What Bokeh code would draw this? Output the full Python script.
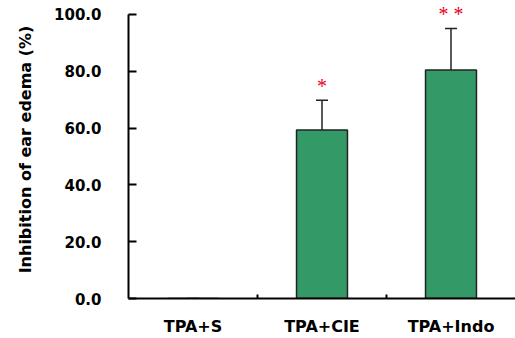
from bokeh.plotting import figure
from bokeh.models import (ColumnDataSource, FixedTicker, NumeralTickFormatter,
                          Range1d, Whisker, TeeHead)
from bokeh.embed import file_html
from bokeh.resources import INLINE

groups = ["TPA+S", "TPA+CIE", "TPA+Indo"]
means = [0.0, 59.3, 80.4]
errors = [0.0, 10.5, 14.6]
stars = ["", "*", "* *"]

xpos = [i + 0.5 for i in range(len(groups))]
src = ColumnDataSource(dict(
    x=xpos, top=means,
    upper=[m + e for m, e in zip(means, errors)],
    star_y=[m + e + 5.0 for m, e in zip(means, errors)],
    star=stars,
))

p = figure(width=515, height=338, output_backend="svg", toolbar_location=None,
           x_range=Range1d(0, 3), y_range=Range1d(0, 104.9),
           min_border_left=128, min_border_right=0, min_border_top=0,
           min_border_bottom=39)
p.outline_line_color = None
p.grid.visible = False
p.background_fill_color = "white"
p.border_fill_color = "white"

p.vbar(x="x", top="top", width=0.395, source=src, fill_color="#339966",
       line_color="#222222", line_width=1.5)

w = Whisker(base="x", lower="top", upper="upper", source=src,
            line_color="#222222", line_width=1.5,
            upper_head=TeeHead(size=12, line_color="#222222", line_width=1.5),
            lower_head=None)
p.add_layout(w)

p.text(x="x", y="star_y", text="star", source=src, text_color="#e8001c",
       text_font_size="20px", text_align="center", text_baseline="middle",
       text_font="DejaVu Sans")

# y axis
ya = p.yaxis[0]
ya.ticker = FixedTicker(ticks=[0, 20, 40, 60, 80, 100], minor_ticks=[])
ya.formatter = NumeralTickFormatter(format="0.0")
ya.bounds = (0, 100)
ya.axis_line_width = 2
ya.major_tick_line_width = 2
ya.major_tick_in = 8
ya.major_tick_out = 0
ya.minor_tick_line_color = None
ya.major_label_standoff = 27
ya.major_label_text_font = "DejaVu Sans"
ya.major_label_text_font_style = "bold"
ya.major_label_text_font_size = "15px"
ya.major_label_text_color = "black"
ya.axis_label = "Inhibition of ear edema (%)"
ya.axis_label_text_font = "DejaVu Sans"
ya.axis_label_text_font_style = "bold"
ya.axis_label_text_font_size = "16px"
ya.axis_label_text_color = "black"
ya.axis_label_standoff = 16

# x axis
xa = p.xaxis[0]
xa.ticker = FixedTicker(ticks=xpos, minor_ticks=[1, 2])
xa.major_label_overrides = {x: g for x, g in zip(xpos, groups)}
xa.axis_line_width = 2
xa.major_tick_line_color = None
xa.minor_tick_line_width = 2
xa.minor_tick_in = 4
xa.minor_tick_out = 0
xa.major_label_standoff = 12
xa.major_label_text_font = "DejaVu Sans"
xa.major_label_text_font_style = "bold"
xa.major_label_text_font_size = "16px"
xa.major_label_text_color = "black"

open("out.html", "w").write(file_html(p, INLINE))
